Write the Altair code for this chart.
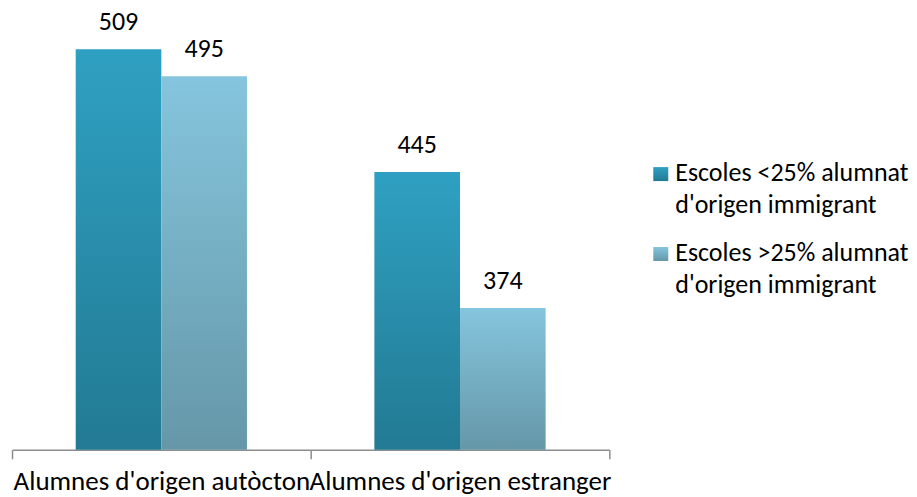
import altair as alt
import pandas as pd

groups = ["Alumnes d'origen autòcton", "Alumnes d'origen estranger"]
series = ["Escoles <25% alumnat", "Escoles >25% alumnat"]
series_line2 = ["d'origen immigrant", "d'origen immigrant"]
values_low = [509, 445]
values_high = [495, 374]
y_min = 300
y_max = 520

rows = []
for g, a, b in zip(groups, values_low, values_high):
    rows.append({"group": g, "series": series[0], "value": a, "base": y_min})
    rows.append({"group": g, "series": series[1], "value": b, "base": y_min})
df = pd.DataFrame(rows)

FONT = "Carlito, Open Sans, sans-serif"

def grad(top, bottom):
    return alt.Gradient(gradient="linear", x1=0, y1=0, x2=0, y2=1,
                        stops=[alt.GradientStop(color=top, offset=0),
                               alt.GradientStop(color=bottom, offset=1)])

grads = [grad("#2fa0c2", "#227a93"), grad("#85c5dd", "#6597a8")]

x_enc = alt.X("group:N", sort=groups, title=None,
              scale=alt.Scale(paddingInner=0, paddingOuter=0),
              axis=alt.Axis(labelAngle=0, labelFont=FONT, labelFontSize=27,
                            labelColor="#000000", domainColor="#8c8c8c",
                            tickColor="#8c8c8c", tickSize=9, tickBand="extent",
                            labelPadding=10, labelLimit=400, domainWidth=1.5, tickWidth=1.5))
xo_enc = alt.XOffset("series:N", sort=series,
                     scale=alt.Scale(paddingInner=0, paddingOuter=0.744))
y_scale = alt.Scale(domain=[y_min, y_max], zero=False, nice=False)
y_enc = alt.Y("value:Q", scale=y_scale, axis=None)

base = alt.Chart(df)

layers = []
for i, s in enumerate(series):
    layers.append(base.mark_bar(fill=grads[i]).encode(
        x=x_enc, xOffset=xo_enc, y=y_enc, y2="base:Q"
    ).transform_filter(alt.datum.series == s))

labels = base.mark_text(baseline="alphabetic", dy=-19, font=FONT, fontSize=26, color="#000000").encode(
    x=x_enc, xOffset=xo_enc, y=y_enc, text="value:Q"
)
layers.append(labels)

# legend (drawn manually to get the two-line spacing)
legend_df = pd.DataFrame({"series": series, "line2": series_line2})
legend_top = 139
legend_step = 80
for i, s in enumerate(series):
    row = alt.Chart(legend_df).transform_filter(alt.datum.series == s)
    y0 = legend_top + i * legend_step
    layers.append(row.mark_rect(fill=grads[i]).encode(
        x=alt.value(642), x2=alt.value(657), y=alt.value(y0), y2=alt.value(y0 + 14)))
    layers.append(row.mark_text(align="left", baseline="alphabetic", font=FONT, fontSize=26,
                                color="#000000", lineHeight=32,
                                text=[series[i], series_line2[i]]).encode(
        x=alt.value(664), y=alt.value(y0 + 14)))

chart = alt.layer(*layers).properties(
    width=598, height=422,
    autosize=alt.AutoSizeParams(type="none"),
    padding={"left": 4, "top": 20, "right": 300, "bottom": 50}
).configure_view(stroke=None)

chart.save("out.html", embed_options={"renderer": "svg", "actions": False})
